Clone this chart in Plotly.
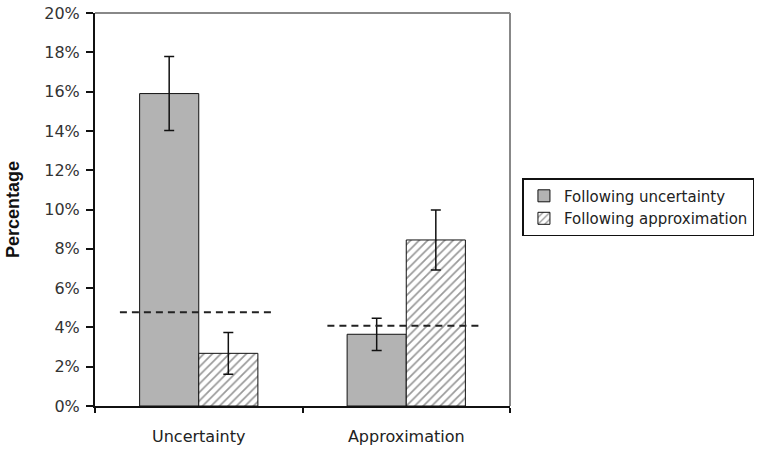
import plotly.graph_objects as go

categories = ["Uncertainty", "Approximation"]
following_uncertainty = [15.9, 3.65]
following_uncertainty_err = [1.88, 0.82]
following_approximation = [2.68, 8.45]
following_approximation_err = [1.06, 1.53]
baseline = [4.77, 4.09]
y_ticks = [0, 2, 4, 6, 8, 10, 12, 14, 16, 18, 20]
y_tick_labels = [f"{v}%" for v in y_ticks]

xpos = list(range(len(categories)))
bw = 0.285
font = "DejaVu Sans, Liberation Sans, Arial, sans-serif"

fig = go.Figure()
fig.add_trace(go.Bar(
    x=xpos, y=following_uncertainty, width=bw, offset=-bw,
    name="Following uncertainty",
    marker=dict(color="#b3b3b3", line=dict(color="#111", width=1)),
    error_y=dict(type="data", array=following_uncertainty_err, color="#111", thickness=1.5, width=5),
))
fig.add_trace(go.Bar(
    x=xpos, y=following_approximation, width=bw, offset=0,
    name="Following approximation",
    marker=dict(color="white", line=dict(color="#111", width=1),
                pattern=dict(shape="/", fgcolor="#333", bgcolor="white", size=6, solidity=0.28)),
    error_y=dict(type="data", array=following_approximation_err, color="#111", thickness=1.5, width=5),
))
for i, b in enumerate(baseline):
    fig.add_trace(go.Scatter(
        x=[xpos[i] - 0.38, xpos[i] + 0.37], y=[b, b], mode="lines",
        line=dict(color="#222", width=2, dash="7px,5px"),
        showlegend=False, hoverinfo="skip",
    ))

fig.update_layout(
    width=758, height=450,
    margin=dict(l=95, r=248, t=13, b=44, autoexpand=False),
    paper_bgcolor="white", plot_bgcolor="white",
    font=dict(family=font, size=16, color="#222"),
    showlegend=True,
    legend=dict(x=1.03, y=0.58, xanchor="left", yanchor="top",
                bordercolor="#111", borderwidth=1.5, bgcolor="white",
                font=dict(size=15, color="#222"), itemwidth=30,
                tracegroupgap=0),
    xaxis=dict(range=[-0.5, 1.5], tickvals=xpos, ticktext=categories, ticks="",
               automargin=False, ticklabelstandoff=15,
               showline=True, linecolor="#111", linewidth=2, showgrid=False, zeroline=False,
               tickfont=dict(size=16, color="#222"),
               minor=dict(tickmode="array", tickvals=[-0.5, 0.5, 1.5], ticks="outside",
                          ticklen=5, tickcolor="#111", tickwidth=1.5, showgrid=False)),
    yaxis=dict(range=[0, 20], tickvals=y_ticks, ticktext=y_tick_labels,
               automargin=False, ticklabelstandoff=3,
               ticks="outside", ticklen=7, tickcolor="#111", tickwidth=1.5,
               showline=True, linecolor="#111", linewidth=2, showgrid=False, zeroline=False,
               tickfont=dict(size=16, color="#333"),
               title=dict(text="<b>Percentage</b>",
                          font=dict(family="Liberation Sans, Arial, sans-serif", size=18, color="#111"),
                          standoff=20)),
    shapes=[
        dict(type="line", xref="paper", yref="paper", x0=0, x1=1, y0=1, y1=1,
             line=dict(color="#888", width=2)),
        dict(type="line", xref="paper", yref="paper", x0=1, x1=1, y0=0, y1=1,
             line=dict(color="#888", width=2)),
    ],
)

fig.write_html("out.html", config={"displayModeBar": False},
               post_script="document.body.style.margin='0';")
